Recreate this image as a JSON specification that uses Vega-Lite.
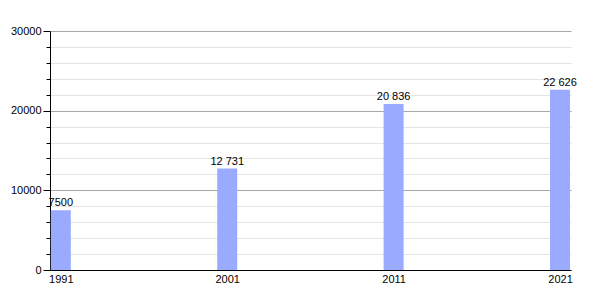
{
  "$schema": "https://vega.github.io/schema/vega-lite/v6.json",
  "width": 521,
  "height": 239,
  "autosize": {"type": "none"},
  "padding": {"left": 50, "top": 31, "right": 29, "bottom": 30},
  "background": "white",
  "config": {"view": {"stroke": null}, "font": "Liberation Sans"},
  "data": {"values": [
    {"year": 1991, "population": 7500, "label": "7500"},
    {"year": 2001, "population": 12731, "label": "12 731"},
    {"year": 2011, "population": 20836, "label": "20 836"},
    {"year": 2021, "population": 22626, "label": "22 626"}
  ]},
  "encoding": {
    "x": {"field": "year", "type": "quantitative",
      "scale": {"domain": [1990.35, 2021.66], "nice": false, "zero": false, "padding": 0},
      "axis": {"values": [1991, 2001, 2011, 2021], "format": "d", "title": null, "grid": false,
        "ticks": false, "labelPadding": 3, "labelFontSize": 11, "labelColor": "black",
        "domainColor": "black", "domainWidth": 1, "labelFont": "Liberation Sans"}},
    "y": {"field": "population", "type": "quantitative",
      "scale": {"domain": [0, 30000], "nice": false},
      "axis": {"values": [0, 2000, 4000, 6000, 8000, 10000, 12000, 14000, 16000, 18000, 20000, 22000, 24000, 26000, 28000, 30000],
        "title": null, "grid": true,
        "gridColor": {"condition": {"test": "datum.value % 10000 === 0", "value": "#a8a8a8"}, "value": "#e4e4e4"},
        "tickSize": {"condition": {"test": "datum.value % 10000 === 0", "value": 7}, "value": 4},
        "tickColor": "black",
        "labelExpr": "datum.value % 10000 === 0 ? datum.value : ''",
        "labelFontSize": 11, "labelColor": "black", "labelPadding": 2,
        "domainColor": "black", "labelFont": "Liberation Sans"}}
  },
  "layer": [
    {"mark": {"type": "bar", "width": 20, "color": "#99aaff"}},
    {"mark": {"type": "text", "dy": -7, "fontSize": 11, "color": "black", "font": "Liberation Sans"},
     "encoding": {"text": {"field": "label"}}}
  ]
}
